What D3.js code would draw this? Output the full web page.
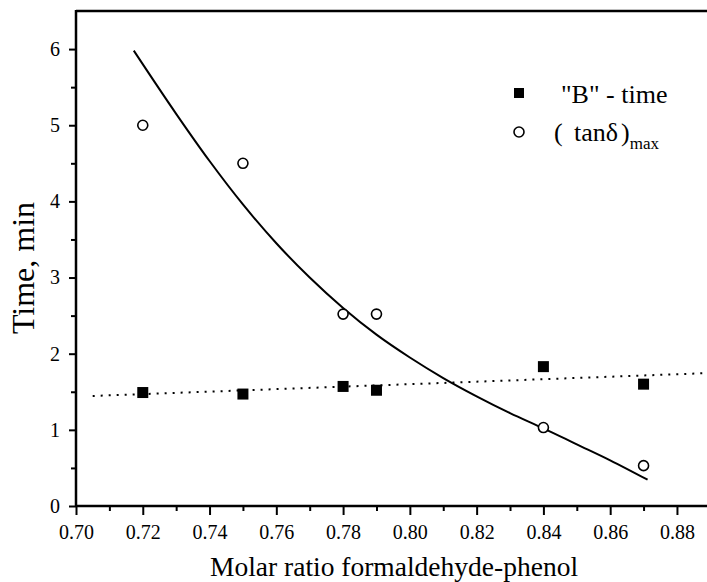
<!DOCTYPE html>
<html>
<head>
<meta charset="utf-8">
<script src="https://cdn.jsdelivr.net/npm/d3@7"></script>
<style>
body{margin:0;background:#fff}
svg text{font-family:'Liberation Serif','Times New Roman',Times,serif}
</style>
</head>
<body>
<div id="container"></div>
<script>
const width = 707
const height = 582
const margin = {left:76, top:11, right:0, bottom:76}
const font = "'Liberation Serif', 'Times New Roman', Times, serif"

// data
const ratio = [0.72, 0.75, 0.78, 0.79, 0.84, 0.87]
const bTime = [1.49, 1.47, 1.57, 1.52, 1.83, 1.60]
const tanMax = [5.0, 4.5, 2.52, 2.52, 1.03, 0.53]

// fitted curve for (tan d)max
const fitX = [0.7173, 0.73, 0.74, 0.75, 0.76, 0.77, 0.78, 0.79, 0.80, 0.81, 0.82, 0.83, 0.84, 0.85, 0.86, 0.8712]
const fitY = [5.98, 5.15, 4.53, 3.96, 3.45, 3.0, 2.6, 2.25, 1.95, 1.68, 1.44, 1.22, 1.02, 0.81, 0.6, 0.345]

// dotted linear fit for "B"-time
const lineX = [0.705, 0.889]
const lineY = [1.445, 1.745]

const xTicks = [0.70, 0.72, 0.74, 0.76, 0.78, 0.80, 0.82, 0.84, 0.86, 0.88]
const xMinor = [0.71, 0.73, 0.75, 0.77, 0.79, 0.81, 0.83, 0.85, 0.87]
const yTicks = [0, 1, 2, 3, 4, 5, 6]
const yMinor = [0.5, 1.5, 2.5, 3.5, 4.5, 5.5]

const svg = d3.select("#container").append("svg")
  .attr("width", width)
  .attr("height", height)

const x = d3.scaleLinear().domain([0.70, 0.889]).range([margin.left, width - margin.right])
const y = d3.scaleLinear().domain([0, 6.5]).range([height - margin.bottom, margin.top])

// axes
const xAxis = svg.append("g").attr("transform", `translate(0,${y(0)})`)
  .call(d3.axisBottom(x).tickValues(xTicks).tickSize(9).tickPadding(10).tickFormat(d3.format(".2f")))
xAxis.append("g").call(d3.axisBottom(x).tickValues(xMinor).tickSize(5).tickFormat(""))

const yAxis = svg.append("g").attr("transform", `translate(${x(0.70)},0)`)
  .call(d3.axisLeft(y).tickValues(yTicks).tickSize(7).tickPadding(9).tickFormat(d3.format("d")))
yAxis.append("g").call(d3.axisLeft(y).tickValues(yMinor).tickSize(5).tickFormat(""))

svg.selectAll(".domain").remove()
svg.selectAll("g").attr("font-family", font)
svg.selectAll(".tick line").attr("stroke", "#000").attr("stroke-width", 2)
svg.selectAll(".tick text").style("font-size", "20px")

// frame: left, bottom, top
svg.append("line").attr("x1", x(0.70)).attr("x2", width).attr("y1", y(0)).attr("y2", y(0))
  .attr("stroke", "#000").attr("stroke-width", 2.5)
svg.append("line").attr("x1", x(0.70)).attr("x2", width).attr("y1", y(6.5)).attr("y2", y(6.5))
  .attr("stroke", "#000").attr("stroke-width", 2.5)
svg.append("line").attr("x1", x(0.70)).attr("x2", x(0.70)).attr("y1", y(0) + 1).attr("y2", y(6.5) - 1)
  .attr("stroke", "#000").attr("stroke-width", 2.5)

// axis titles
svg.append("text")
  .attr("x", 394).attr("y", 576)
  .attr("text-anchor", "middle")
  .style("font-size", "27.5px")
  .text("Molar ratio formaldehyde-phenol")

svg.append("text")
  .attr("transform", "translate(34,268) rotate(-90)")
  .attr("text-anchor", "middle")
  .style("font-size", "32px")
  .text("Time, min")

// lines
const line = d3.line().x(d => x(d[0])).y(d => y(d[1]))

svg.append("path")
  .attr("d", line.curve(d3.curveLinear)(d3.zip(lineX, lineY)))
  .attr("fill", "none").attr("stroke", "#000")
  .attr("stroke-width", 2).attr("stroke-dasharray", "2,6")

svg.append("path")
  .attr("d", line.curve(d3.curveMonotoneX)(d3.zip(fitX, fitY)))
  .attr("fill", "none").attr("stroke", "#000").attr("stroke-width", 2)

// points
const s = 11
svg.selectAll(".sq").data(d3.zip(ratio, bTime)).join("rect")
  .attr("x", d => x(d[0]) - s / 2).attr("y", d => y(d[1]) - s / 2)
  .attr("width", s).attr("height", s).attr("fill", "#000")

svg.selectAll(".circ").data(d3.zip(ratio, tanMax)).join("circle")
  .attr("cx", d => x(d[0])).attr("cy", d => y(d[1]))
  .attr("r", 5).attr("fill", "#fff").attr("stroke", "#000").attr("stroke-width", 1.6)

// legend
const leg = svg.append("g")
leg.append("rect").attr("x", 514).attr("y", 88).attr("width", 10).attr("height", 10).attr("fill", "#000")
leg.append("text").attr("x", 561).attr("y", 103).style("font-size", "26px").text('"B" - time')
leg.append("circle").attr("cx", 519).attr("cy", 132).attr("r", 5)
  .attr("fill", "#fff").attr("stroke", "#000").attr("stroke-width", 1.6)
const t2 = leg.append("text").attr("x", 554).attr("y", 141).style("font-size", "26px")
t2.append("tspan").text("(")
t2.append("tspan").attr("x", 574).text("tanδ")
t2.append("tspan").attr("dx", 3).text(")")
t2.append("tspan").attr("dy", 8).style("font-size", "17px").text("max")
</script>
</body>
</html>
